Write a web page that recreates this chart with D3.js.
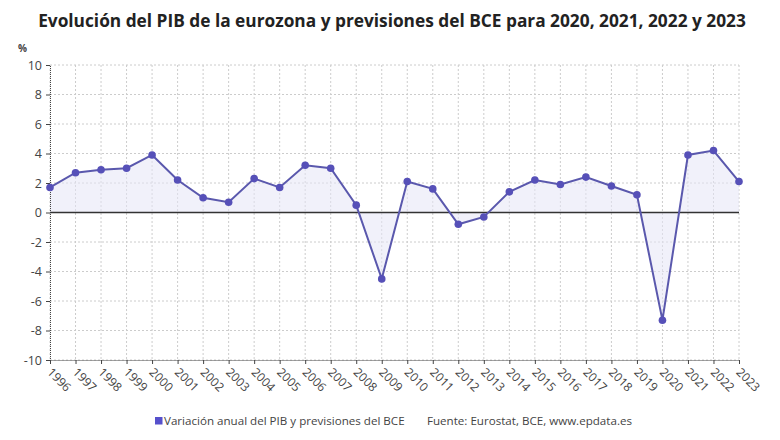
<!DOCTYPE html>
<html>
<head>
<meta charset="utf-8">
<script src="https://cdn.jsdelivr.net/npm/d3@7"></script>
<style>
  body { margin: 0; background: #fff; }
  text { font-family: "Open Sans", "Noto Sans", sans-serif; }
</style>
</head>
<body>
<svg id="chart" width="780" height="440"></svg>
<script>
const years = ['1996','1997','1998','1999','2000','2001','2002','2003','2004','2005','2006','2007','2008','2009',
  '2010','2011','2012','2013','2014','2015','2016','2017','2018','2019','2020','2021','2022','2023'];
const gdp = [1.7, 2.7, 2.9, 3.0, 3.9, 2.2, 1.0, 0.7, 2.3, 1.7, 3.2, 3.0, 0.5, -4.5,
  2.1, 1.6, -0.8, -0.3, 1.4, 2.2, 1.9, 2.4, 1.8, 1.2, -7.3, 3.9, 4.2, 2.1];
const yTicks = [10, 8, 6, 4, 2, 0, -2, -4, -6, -8, -10];

const title = 'Evolución del PIB de la eurozona y previsiones del BCE para 2020, 2021, 2022 y 2023';
const seriesName = 'Variación anual del PIB y previsiones del BCE';
const source = 'Fuente: Eurostat, BCE, www.epdata.es';

const margin = { top: 65, right: 41, bottom: 80, left: 50 };
const width = 780, height = 440;

const svg = d3.select('#chart');

const x = d3.scalePoint()
    .domain(years)
    .range([margin.left, width - margin.right]);

const y = d3.scaleLinear()
    .domain([-10, 10])
    .range([height - margin.bottom, margin.top]);

const data = years.map((yr, i) => ({ year: yr, value: gdp[i] }));

// title
svg.append('text')
    .attr('x', width / 2 + 2)
    .attr('y', 27)
    .attr('text-anchor', 'middle')
    .style('font-size', '17.3px')
    .style('font-weight', 700)
    .style('fill', '#222')
    .text(title);

svg.append('text')
    .attr('x', 18)
    .attr('y', 52)
    .style('font-size', '10px')
    .style('font-weight', 700)
    .style('fill', '#444')
    .text('%');

// grid
const grid = svg.append('g').attr('class', 'grid');
grid.selectAll('.hgrid')
    .data(yTicks)
    .enter().append('line')
    .attr('x1', margin.left)
    .attr('x2', width - margin.right)
    .attr('y1', d => y(d))
    .attr('y2', d => y(d))
    .style('stroke', '#ccc')
    .style('stroke-dasharray', '2,2');
grid.selectAll('.vgrid')
    .data(years)
    .enter().append('line')
    .attr('x1', d => x(d))
    .attr('x2', d => x(d))
    .attr('y1', margin.top)
    .attr('y2', height - margin.bottom)
    .style('stroke', '#ccc')
    .style('stroke-dasharray', '2,2');

// area between line and zero
const area = d3.area()
    .x(d => x(d.year))
    .y0(y(0))
    .y1(d => y(d.value));

svg.append('path')
    .datum(data)
    .attr('d', area)
    .style('fill', '#e6e6f5')
    .style('fill-opacity', 0.55);

// axes
const yAxis = svg.append('g')
    .attr('transform', `translate(${margin.left},0)`)
    .call(d3.axisLeft(y).tickValues(yTicks).tickFormat(d => String(d)).tickSize(4).tickPadding(4));
yAxis.select('.domain').style('stroke', '#444').style('stroke-dasharray', '1,1');
yAxis.selectAll('.tick line').style('stroke', '#444');
yAxis.selectAll('text')
    .style('font-size', '12.5px')
    .style('fill', '#444');

const xAxis = svg.append('g')
    .attr('transform', `translate(0,${height - margin.bottom})`)
    .call(d3.axisBottom(x).tickSize(4).tickSizeOuter(0).tickPadding(4));
xAxis.select('.domain').style('stroke', '#444').style('stroke-dasharray', '1,1');
xAxis.selectAll('.tick line').style('stroke', '#444');
xAxis.selectAll('text')
    .style('font-size', '12px')
    .style('fill', '#444')
    .style('text-anchor', 'start')
    .attr('x', 0)
    .attr('y', 0)
    .attr('dy', '0.35em')
    .attr('transform', 'translate(-1,10) rotate(45)');

// zero line
svg.append('line')
    .attr('x1', margin.left)
    .attr('x2', width - margin.right)
    .attr('y1', y(0))
    .attr('y2', y(0))
    .style('stroke', '#333')
    .style('stroke-width', 1.5);

// line + points
const line = d3.line()
    .x(d => x(d.year))
    .y(d => y(d.value));

svg.append('path')
    .datum(data)
    .attr('d', line)
    .style('fill', 'none')
    .style('stroke', '#5a58ad')
    .style('stroke-width', 2);

svg.selectAll('.dot')
    .data(data)
    .enter().append('circle')
    .attr('class', 'dot')
    .attr('cx', d => x(d.year))
    .attr('cy', d => y(d.value))
    .attr('r', 3.8)
    .style('fill', '#5650b8');

// legend
const legend = svg.append('g').attr('transform', 'translate(155,417)');
legend.append('rect')
    .attr('width', 7.5)
    .attr('height', 7.5)
    .style('fill', '#5650cc');
legend.append('text')
    .attr('x', 9)
    .attr('y', 8)
    .style('font-size', '11.6px')
    .style('fill', '#444')
    .text(seriesName);
legend.append('text')
    .attr('x', 272)
    .attr('y', 8)
    .style('font-size', '11.6px')
    .style('fill', '#444')
    .text(source);
</script>
</body>
</html>
